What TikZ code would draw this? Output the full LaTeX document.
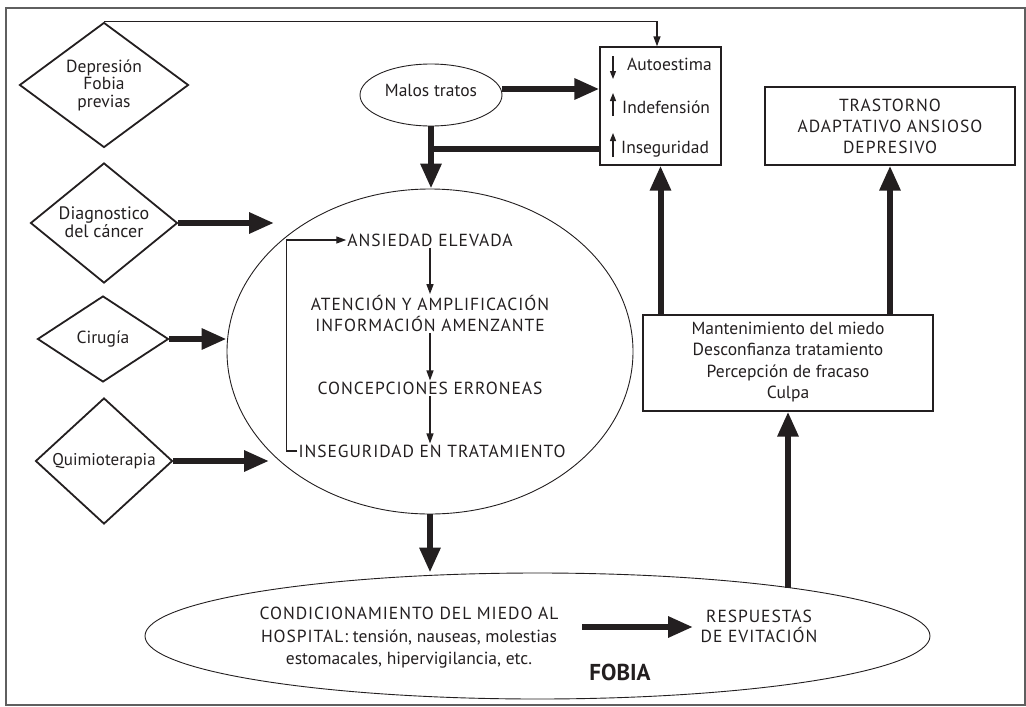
\documentclass[tikz,border=0pt]{standalone}
\usepackage{fontspec}
\setmainfont{PT Sans}
\newfontfamily\capsfont[LetterSpace=5.5]{PT Sans}
\usetikzlibrary{shapes.geometric,arrows.meta,calc}
\definecolor{ink}{RGB}{35,31,32}
\definecolor{framec}{RGB}{95,95,95}
\begin{document}
\begin{tikzpicture}[x=1pt,y=-1pt,
  txt/.style={font=\fontsize{17.5}{21}\selectfont, text=ink, align=center, inner sep=1pt},
  captxt/.style={txt, font=\fontsize{17.5}{21}\capsfont},
  dia/.style={diamond, draw=ink, line width=1.8pt, inner sep=0pt},
  box/.style={rectangle, draw=ink, line width=1.3pt, inner sep=0pt},
  ell/.style={ellipse, draw=ink, line width=0.9pt, inner sep=0pt},
  big/.style={draw=ink, line width=6pt, -{Triangle[length=25pt,width=20pt]}},
  bigline/.style={draw=ink, line width=6pt},
  thinarrow/.style={draw=ink, line width=1.3pt, -{Triangle[length=10pt,width=7pt]}},
  sym/.style={draw=ink, line width=1.3pt, -{Triangle[length=8pt,width=6pt]}},
]
\useasboundingbox (0,0) rectangle (1026,707);
\draw[framec, line width=1.4pt] (6,8) rectangle (1025,705);

% diamonds
\node[dia, minimum width=169pt, minimum height=125pt] (d1) at (104,85) {};
\node[txt, font=\fontsize{17.5}{17.5}\selectfont] at (104,85) {Depresión\\Fobia\\previas};
\node[dia, minimum width=147pt, minimum height=120pt] (d2) at (104,223) {};
\node[txt, font=\fontsize{18}{18}\selectfont] at (104,222) {Diagnostico\\del cáncer};
\node[dia, minimum width=131pt, minimum height=86pt] (d3) at (103,339) {};
\node[txt] at (103,339) {Cirugía};
\node[dia, minimum width=137pt, minimum height=126pt] (d4) at (104,461) {};
\node[txt, font=\fontsize{17}{21}\selectfont] at (104,461) {Quimioterapia};

% malos tratos
\node[ell, minimum width=142pt, minimum height=62pt] (mt) at (431,95) {};
\node[txt] at (431,90) {Malos tratos};

% autoestima box
\node[box, minimum width=121pt, minimum height=118pt] (au) at (660.5,106) {};
\node[txt, anchor=west] (t1) at (626,64) {Autoestima};
\node[txt, anchor=west] (t2) at (621,107) {Indefensión};
\node[txt, anchor=west] (t3) at (620,149) {Inseguridad};
\draw[sym] (613,56) -- (613,79);
\draw[sym] (613,116) -- (613,93);
\draw[sym] (613,157) -- (613,133);

% trastorno
\node[box, minimum width=250pt, minimum height=78pt] (tr) at (890,126) {};
\node[captxt] at (890,126) {TRASTORNO\\ADAPTATIVO ANSIOSO\\DEPRESIVO};

% mantenimiento
\node[box, minimum width=290pt, minimum height=96pt] (ma) at (788,363) {};
\node[txt, font=\fontsize{17.5}{21.3}\selectfont] at (788,362) {Mantenimiento del miedo\\Desconfianza tratamiento\\Percepción de fracaso\\Culpa};

% big ellipse
\node[ell, minimum width=406pt, minimum height=325pt] (bg) at (430,351.5) {};
\node[captxt] (ans) at (430,240) {ANSIEDAD ELEVADA};
\node[captxt] (ate) at (430,313.5) {ATENCIÓN Y AMPLIFICACIÓN\\INFORMACIÓN AMENZANTE};
\node[captxt] (con) at (430,388) {CONCEPCIONES ERRONEAS};
\node[captxt] (ins) at (432,451) {INSEGURIDAD EN TRATAMIENTO};
\draw[thinarrow] (ans.south) -- (ate.north);
\draw[thinarrow] (ate.south) -- (con.north);
\draw[thinarrow] (con.south) -- (con.south |- ins.north);
\draw[thinarrow] (ins.west) -- ++(-11,0) |- (ans.west);

% bottom ellipse
\node[ell, minimum width=785pt, minimum height=126pt] (fb) at (537.5,636) {};
\node[txt, font=\fontsize{17.5}{22.5}\selectfont] (cond) at (409,638) {{\capsfont CONDICIONAMIENTO DEL MIEDO AL}\\{\capsfont HOSPITAL:} tensión, nauseas, molestias\\estomacales, hipervigilancia, etc.};
\node[captxt, font=\fontsize{17.5}{20}\capsfont] (resp) at (759,626) {RESPUESTAS\\DE EVITACIÓN};
\node[txt, font=\fontsize{23}{23}\selectfont\bfseries] (fobia) at (620,672) {FOBIA};

% coordinates
\coordinate (e2) at (274,223);
\coordinate (e4) at (269,461);
\coordinate (jn) at (428,149);
\coordinate (tp) at ([xshift=-3.5pt]au.north);
\coordinate (rb) at (788,588);
\coordinate (cs) at (582,627);
\coordinate (rw) at (693,627);

% connectors
\draw[thinarrow] (d1.north) -- (d1.north -| tp) -- (tp);
\draw[big] (d2.east) -- (e2);
\draw[big] (d3.east) -- (d3.east -| bg.west);
\draw[big] (d4.east) -- (e4);
\draw[big] ([yshift=6pt]mt.east) -- ([yshift=6pt]mt.east -| au.west);
\draw[big] (mt.south) -- (mt.south |- bg.north);
\draw[bigline] (jn) -- (jn -| au.west);
\draw[big] (au.south |- ma.north) -- (au.south);
\draw[big] (tr.south |- ma.north) -- (tr.south);
\draw[big] (rb) -- (ma.south);
\draw[big] (bg.south) -- (bg.south |- fb.north);
\draw[big] (cs) -- (rw);
\end{tikzpicture}
\end{document}
